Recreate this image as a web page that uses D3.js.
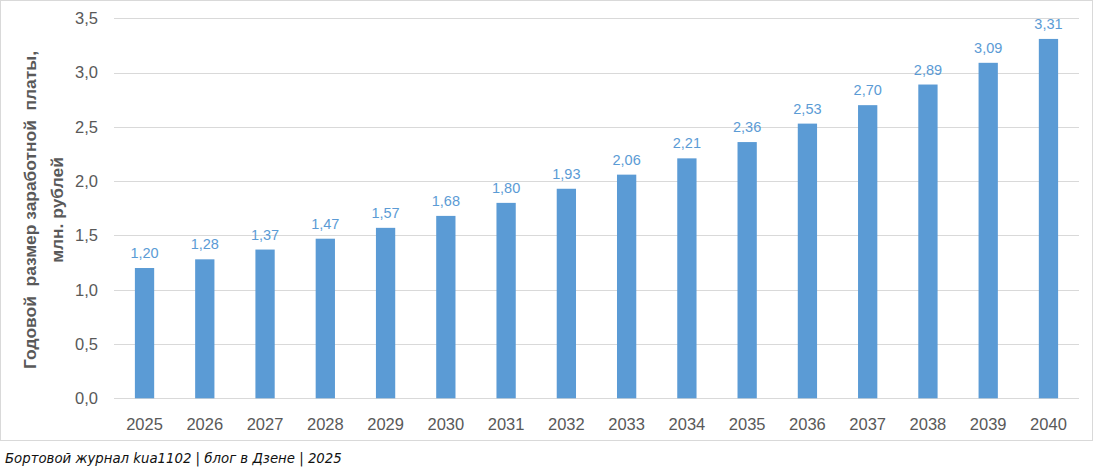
<!DOCTYPE html>
<html>
<head>
<meta charset="utf-8">
<script src="https://cdn.jsdelivr.net/npm/d3@7"></script>
<style>
  body { margin: 0; background: #fff; }
  svg { display: block; }
</style>
</head>
<body>
<svg id="chart" width="1094" height="476"></svg>
<script>
// data
var years = ["2025","2026","2027","2028","2029","2030","2031","2032","2033","2034","2035","2036","2037","2038","2039","2040"];
var salary = [1.20, 1.28, 1.37, 1.47, 1.57, 1.68, 1.80, 1.93, 2.06, 2.21, 2.36, 2.53, 2.70, 2.89, 3.09, 3.31];
var yTicks = [0, 0.5, 1.0, 1.5, 2.0, 2.5, 3.0, 3.5];
var yTitle = ["Годовой  размер заработной  платы,", "млн. рублей"];
var footer = "Бортовой журнал kua1102 | блог в Дзене | 2025";

var svg = d3.select("#chart");
var fmt = function (v, n) { return v.toFixed(n).replace(".", ","); };

// chart frame
svg.append("rect")
    .attr("x", 0.5).attr("y", 0.5)
    .attr("width", 1092).attr("height", 440)
    .attr("fill", "#fff")
    .attr("stroke", "#d9d9d9");

var x = d3.scaleBand().domain(years).range([114.4, 1078.6]).paddingInner(0.68).paddingOuter(0.34);
var y = d3.scaleLinear().domain([0, 3.5]).range([398.3, 18.3]);

// gridlines
svg.append("g").selectAll("line")
    .data(yTicks)
    .join("line")
    .attr("x1", 114).attr("x2", 1079)
    .attr("y1", d => Math.round(y(d)) + 0.5)
    .attr("y2", d => Math.round(y(d)) + 0.5)
    .attr("stroke", "#d9d9d9")
    .attr("stroke-width", 1);

// y tick labels
svg.append("g").selectAll("text")
    .data(yTicks)
    .join("text")
    .attr("x", 98)
    .attr("y", d => y(d))
    .attr("dy", "0.35em")
    .attr("text-anchor", "end")
    .attr("font-family", "Liberation Sans, Arial, sans-serif")
    .attr("font-size", 16.5)
    .attr("fill", "#595959")
    .text(d => fmt(d, 1));

// bars
svg.append("g").selectAll("rect")
    .data(salary)
    .join("rect")
    .attr("x", (d, i) => x(years[i]))
    .attr("width", x.bandwidth())
    .attr("y", d => y(d))
    .attr("height", d => y(0) - y(d))
    .attr("fill", "#5b9bd5");

// value labels
svg.append("g").selectAll("text")
    .data(salary)
    .join("text")
    .attr("x", (d, i) => x(years[i]) + x.bandwidth() / 2)
    .attr("y", d => y(d) - 10)
    .attr("text-anchor", "middle")
    .attr("font-family", "Liberation Sans, Arial, sans-serif")
    .attr("font-size", 14.5)
    .attr("fill", "#5b9bd5")
    .text(d => fmt(d, 2));

// x labels
svg.append("g").selectAll("text")
    .data(years)
    .join("text")
    .attr("x", d => x(d) + x.bandwidth() / 2)
    .attr("y", 430)
    .attr("text-anchor", "middle")
    .attr("font-family", "Liberation Sans, Arial, sans-serif")
    .attr("font-size", 16.5)
    .attr("fill", "#595959")
    .text(d => d);

// y title
var title = svg.append("text")
    .attr("transform", "translate(36,210) rotate(-90)")
    .attr("text-anchor", "middle")
    .attr("font-family", "Liberation Sans, Arial, sans-serif")
    .attr("font-size", 17.4)
    .attr("font-weight", "bold")
    .attr("fill", "#595959")
    .style("white-space", "pre");
title.selectAll("tspan")
    .data(yTitle)
    .join("tspan")
    .attr("x", 0)
    .attr("dy", (d, i) => i === 0 ? 0 : 27)
    .text(d => d);

// footer
svg.append("text")
    .attr("x", 5)
    .attr("y", 463)
    .attr("font-family", "DejaVu Sans, sans-serif")
    .attr("font-style", "italic")
    .attr("font-size", 13.3)
    .attr("fill", "#111")
    .text(footer);
</script>
</body>
</html>
